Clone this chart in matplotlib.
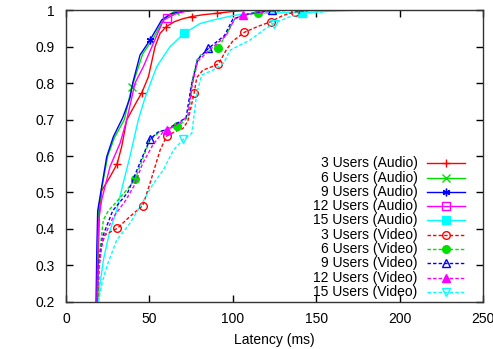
import matplotlib
matplotlib.use("Agg")
import matplotlib.pyplot as plt
from matplotlib.lines import Line2D

plt.rcParams['font.family'] = ['Liberation Sans', 'DejaVu Sans']
plt.rcParams['font.size'] = 10

# CDF curves (latency in ms, cumulative fraction)
audio3_x = [19, 19.5, 20, 21.4, 24, 26.4, 30.6, 33.4, 36.4, 42.5, 45.4, 49.4, 53.4, 56.4, 60, 65, 70, 75.4, 82, 90.4, 100, 110, 250]
audio3_y = [0.2, 0.35, 0.45, 0.505, 0.525, 0.543, 0.578, 0.626, 0.699, 0.75, 0.773, 0.817, 0.9, 0.936, 0.954, 0.968, 0.976, 0.982, 0.987, 0.991, 0.996, 1.0, 1.0]
audio3_mk = [6, 10, 14, 17, 19]

audio6_x = [18.5, 19, 19.5, 21, 25, 29, 35, 37.5, 39.4, 46, 52, 58, 63, 65.4, 75, 250]
audio6_y = [0.2, 0.35, 0.45, 0.5, 0.6, 0.65, 0.7, 0.75, 0.788, 0.88, 0.92, 0.97, 0.99, 0.997, 1.0, 1.0]
audio6_mk = [8, 13]

audio9_x = [18, 18.5, 19, 21.4, 24.4, 28.4, 34, 38.4, 40, 44.4, 50.4, 57.4, 63, 70, 80, 250]
audio9_y = [0.2, 0.35, 0.45, 0.516, 0.598, 0.653, 0.705, 0.76, 0.8, 0.877, 0.918, 0.973, 0.99, 0.996, 1.0, 1.0]
audio9_mk = [10]

audio12_x = [18.5, 19, 19.5, 21.4, 26.4, 32.4, 36.4, 41.4, 46.4, 52.4, 58.4, 60.4, 66, 75, 250]
audio12_y = [0.2, 0.33, 0.42, 0.48, 0.571, 0.635, 0.699, 0.8, 0.845, 0.909, 0.972, 0.977, 0.99, 1.0, 1.0]
audio12_mk = [11]

audio15_x = [19.5, 20.4, 22.4, 26, 30.4, 34, 38.4, 43.4, 47.4, 54.4, 62.4, 70.8, 80.4, 90.4, 100.4, 110, 125, 141.4, 160, 180, 250]
audio15_y = [0.2, 0.25, 0.315, 0.39, 0.452, 0.52, 0.6, 0.7, 0.76, 0.845, 0.9, 0.936, 0.963, 0.975, 0.985, 0.99, 0.992, 0.993, 0.997, 1.0, 1.0]
audio15_mk = [11, 17]

video3_x = [19, 20, 21, 23.4, 30.8, 38, 46, 50, 53, 56.4, 60.4, 66, 70, 73, 75, 76.8, 78.4, 82, 86, 91.4, 96, 100, 107, 115, 122.8, 130, 137.4, 150, 250]
video3_y = [0.2, 0.3, 0.35, 0.384, 0.402, 0.433, 0.464, 0.52, 0.565, 0.616, 0.655, 0.668, 0.675, 0.695, 0.735, 0.772, 0.815, 0.835, 0.842, 0.852, 0.89, 0.915, 0.939, 0.955, 0.968, 0.985, 0.995, 1.0, 1.0]
video3_mk = [4, 6, 10, 15, 19, 22, 24, 26]

video6_x = [19, 20, 22.4, 25.4, 29.4, 36.4, 41.4, 46.4, 50.4, 56.4, 61, 66.4, 70, 73.4, 75.4, 78.4, 81.4, 86, 91.4, 96.4, 101.4, 106, 115.4, 125, 250]
video6_y = [0.2, 0.33, 0.425, 0.45, 0.47, 0.507, 0.536, 0.598, 0.644, 0.667, 0.675, 0.682, 0.692, 0.708, 0.8, 0.863, 0.88, 0.888, 0.897, 0.936, 0.977, 0.986, 0.993, 1.0, 1.0]
video6_mk = [6, 11, 18, 22]

video9_x = [18.5, 19.5, 22, 28, 37, 46, 50.4, 55, 60, 66, 72, 75, 79, 85.4, 95, 100, 110, 123.4, 250]
video9_y = [0.2, 0.3, 0.38, 0.45, 0.5, 0.6, 0.646, 0.665, 0.672, 0.688, 0.705, 0.79, 0.865, 0.895, 0.93, 0.975, 0.99, 1.0, 1.0]
video9_mk = [6, 13, 17]

video12_x = [18.5, 19.5, 22, 28, 36, 41, 46, 52, 58, 60.4, 68, 73, 75.5, 79, 86, 96, 101, 106, 120, 135, 250]
video12_y = [0.2, 0.29, 0.37, 0.43, 0.48, 0.52, 0.58, 0.63, 0.665, 0.671, 0.69, 0.71, 0.79, 0.86, 0.89, 0.93, 0.975, 0.986, 0.995, 1.0, 1.0]
video12_mk = [9, 17]

video15_x = [19.4, 21.5, 24.4, 30.4, 38.4, 44.4, 52.4, 58.4, 64.4, 70.4, 75.4, 78.4, 81.4, 88.4, 94.4, 98.4, 110.4, 118.4, 124.4, 134.4, 144.4, 165, 250]
video15_y = [0.2, 0.25, 0.297, 0.37, 0.416, 0.461, 0.525, 0.562, 0.616, 0.646, 0.662, 0.772, 0.822, 0.836, 0.854, 0.89, 0.918, 0.945, 0.963, 0.982, 0.991, 1.0, 1.0]
video15_mk = [9, 18]

labels = ["3 Users (Audio)", "6 Users (Audio)", "9 Users (Audio)", "12 Users (Audio)", "15 Users (Audio)",
          "3 Users (Video)", "6 Users (Video)", "9 Users (Video)", "12 Users (Video)", "15 Users (Video)"]

series = [(audio3_x, audio3_y, audio3_mk), (audio6_x, audio6_y, audio6_mk),
          (audio9_x, audio9_y, audio9_mk), (audio12_x, audio12_y, audio12_mk),
          (audio15_x, audio15_y, audio15_mk), (video3_x, video3_y, video3_mk),
          (video6_x, video6_y, video6_mk), (video9_x, video9_y, video9_mk),
          (video12_x, video12_y, video12_mk), (video15_x, video15_y, video15_mk)]

colors = ['#ff0000', '#00e000', '#0000ff', '#ff00ff', '#00ffff'] * 2
markers = ['+', 'x', (6, 2, 0), 's', 's', 'o', 'o', '^', '^', 'v']
filled = [True, True, True, False, True, False, True, False, True, False]

fig = plt.figure(figsize=(4.93, 3.49), dpi=100)
ax = fig.add_axes([0.1339, 0.1347, 0.9797 - 0.1339, 0.9713 - 0.1347])

for i, (xs, ys, mk) in enumerate(series):
    ls = (0, (2.5, 1.5)) if i >= 5 else '-'
    mfc = colors[i] if filled[i] else 'none'
    ax.plot(xs, ys, color=colors[i], lw=1.0, ls=ls, marker=markers[i], ms=5.5,
            mew=1.0, mfc=mfc, markevery=mk)

    # gnuplot-style key entry: right-aligned text, sample line after it
    yy = 0.475 - i * 0.0489
    ax.text(0.843, yy, labels[i], transform=ax.transAxes, ha='right', va='center', fontsize=10)
    ax.add_line(Line2D([0.865, 0.957], [yy, yy], transform=ax.transAxes,
                       color=colors[i], lw=1.0, ls=ls))
    ax.add_line(Line2D([0.911], [yy], transform=ax.transAxes, ls='none', color=colors[i],
                       marker=markers[i], ms=5.5, mew=1.0, mfc=mfc))

ax.set_xlim(0, 250)
ax.set_ylim(0.2, 1.0)
ax.set_xticks([0, 50, 100, 150, 200, 250])
ax.set_yticks([0.2, 0.3, 0.4, 0.5, 0.6, 0.7, 0.8, 0.9, 1.0])
ax.set_yticklabels(['0.2', '0.3', '0.4', '0.5', '0.6', '0.7', '0.8', '0.9', '1'])
ax.tick_params(direction='in', length=5, width=1, top=True, right=True, labelsize=10)
ax.tick_params(axis='x', pad=7)
ax.tick_params(axis='y', pad=8)
for s in ax.spines.values():
    s.set_linewidth(1.0)
    s.set_color('#333333')
ax.set_xlabel('Latency (ms)', fontsize=10, labelpad=5)

fig.savefig('out.png', dpi=100)
